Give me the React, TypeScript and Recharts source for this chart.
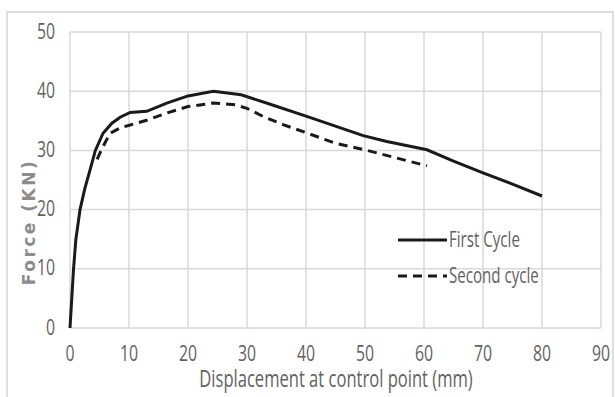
import React from "react";
import { LineChart, Line, XAxis, YAxis, CartesianGrid } from "recharts";

// First loading cycle: displacement (mm) vs force (kN)
const firstDisp = [0, 0.3, 0.6, 1.0, 1.7, 2.5, 3.4, 4.3, 5.6, 7.1, 8.5, 10.2, 13, 16.4, 20, 24.3, 29, 33.3, 40, 49.7, 53.7, 60.5, 65, 70, 75, 80];
const firstForce = [0, 5, 10, 15, 20, 23.5, 26.7, 30, 32.9, 34.6, 35.6, 36.4, 36.6, 38, 39.2, 40, 39.4, 38, 35.8, 32.5, 31.5, 30.1, 28.2, 26.2, 24.3, 22.3];

// Second loading cycle
const secondDisp = [4.6, 5.4, 6.8, 8.5, 10.2, 13, 16.4, 20, 24.3, 28, 30, 32.8, 36, 40, 45, 50, 55, 60.5];
const secondForce = [28.5, 30.3, 32.9, 33.8, 34.3, 35.1, 36.3, 37.4, 38, 37.7, 37.1, 35.7, 34.4, 33, 31.2, 30.1, 28.8, 27.4];

const xTicks = [0, 10, 20, 30, 40, 50, 60, 70, 80, 90];
const yTicks = [0, 10, 20, 30, 40, 50];

const firstData = firstDisp.map((d, i) => ({ disp: d, force: firstForce[i] }));
const secondData = secondDisp.map((d, i) => ({ disp: d, force: secondForce[i] }));

// condensed look: Open Sans squeezed horizontally
const font = "'Open Sans', sans-serif";
const squeeze = 0.72;
const textGray = "#626262";

const XTick = ({ x, y, payload }: any) => (
  <text
    transform={`translate(${x},${y}) scale(${squeeze},1)`}
    textAnchor="middle"
    dy="0.71em"
    fontFamily={font}
    fontSize={22}
    fill={textGray}
  >
    {payload.value}
  </text>
);

const YTick = ({ x, y, payload }: any) => (
  <text
    transform={`translate(${x},${y}) scale(${squeeze},1)`}
    textAnchor="end"
    dy="0.3em"
    fontFamily={font}
    fontSize={22}
    fill={textGray}
  >
    {payload.value}
  </text>
);

const LegendBox = () => (
  <svg width={210} height={64} style={{ position: "absolute", left: 395, top: 225 }}>
    <line x1={3} y1={15} x2={52} y2={15} stroke="#1a1a1a" strokeWidth={3} />
    <text transform={`translate(54,22) scale(${squeeze},1)`} fontFamily={font} fontSize={21} fill={textGray}>
      First Cycle
    </text>
    <line x1={3} y1={51} x2={52} y2={51} stroke="#1a1a1a" strokeWidth={3} strokeDasharray="9 6" />
    <text transform={`translate(54,58) scale(${squeeze},1)`} fontFamily={font} fontSize={21} fill={textGray}>
      Second cycle
    </text>
  </svg>
);

export default function App() {
  return (
    <div style={{ position: "fixed", left: 0, top: 0, width: 615, height: 397, background: "#fff", overflow: "hidden" }}>
      <div
        style={{
          position: "absolute",
          left: 6,
          top: 11,
          width: 604,
          height: 400,
          border: "2px solid #dedede",
        }}
      />
      <LineChart
        width={615}
        height={397}
        margin={{ top: 32, right: 14, bottom: 0, left: 0 }}
        style={{ position: "absolute", left: 0, top: 0 }}
      >
        <CartesianGrid stroke="#d9d9d9" strokeWidth={1.5} />
        <XAxis
          dataKey="disp"
          type="number"
          domain={[0, 90]}
          ticks={xTicks}
          allowDuplicatedCategory={false}
          axisLine={false}
          tickLine={false}
          tickSize={6}
          tickMargin={11}
          height={69}
          tick={<XTick />}
        />
        <YAxis
          type="number"
          domain={[0, 50]}
          ticks={yTicks}
          axisLine={false}
          tickLine={false}
          tickSize={6}
          tickMargin={9}
          width={70}
          tick={<YTick />}
        />
        <Line
          data={firstData}
          dataKey="force"
          name="First Cycle"
          type="linear"
          stroke="#1a1a1a"
          strokeWidth={3}
          dot={false}
          isAnimationActive={false}
        />
        <Line
          data={secondData}
          dataKey="force"
          name="Second cycle"
          type="linear"
          stroke="#1a1a1a"
          strokeWidth={3}
          strokeDasharray="9 6"
          dot={false}
          isAnimationActive={false}
        />
      </LineChart>
      <svg width={615} height={397} style={{ position: "absolute", left: 0, top: 0, pointerEvents: "none" }}>
        <text
          transform={`translate(336,387) scale(${squeeze},1)`}
          textAnchor="middle"
          fontFamily={font}
          fontSize={23}
          fill={textGray}
        >
          Displacement at control point (mm)
        </text>
        <text
          transform="translate(35,222) rotate(-90)"
          textAnchor="middle"
          fontFamily="'DejaVu Sans', sans-serif"
          fontWeight="bold"
          fontSize={17}
          letterSpacing={2.5}
          fill="#8c8c8c"
        >
          Force (KN)
        </text>
      </svg>
      <LegendBox />
    </div>
  );
}
